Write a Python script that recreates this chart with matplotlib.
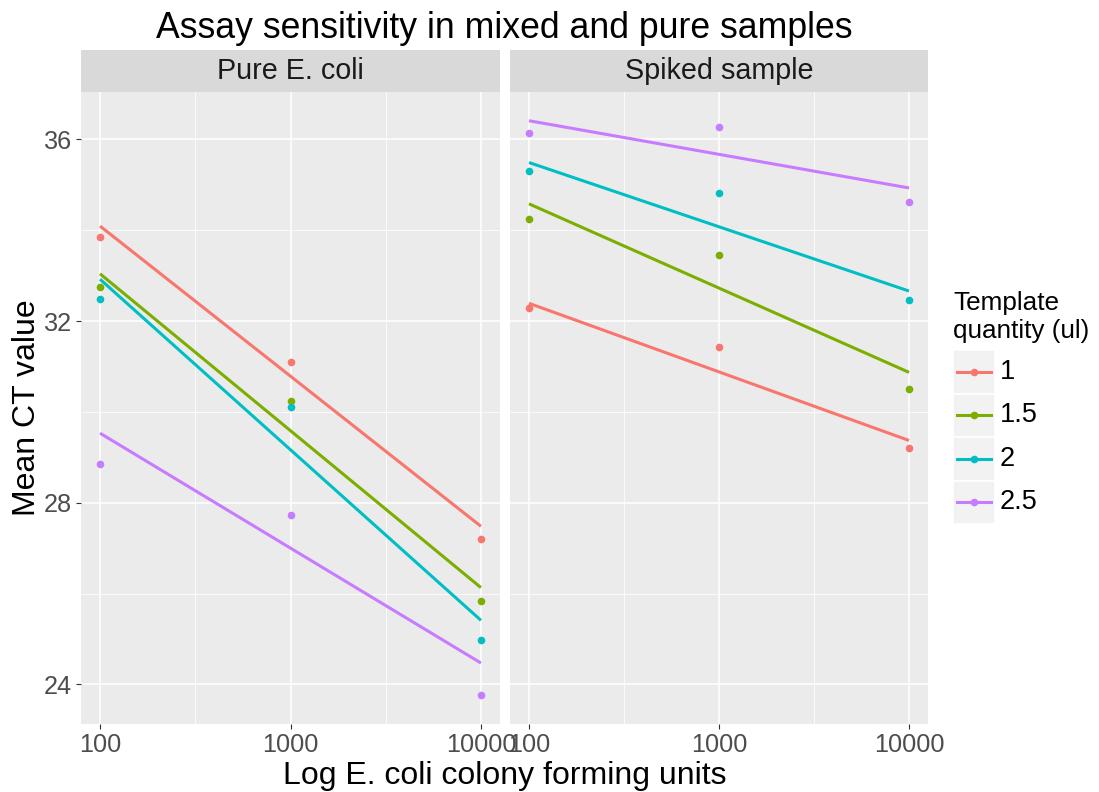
import numpy as np
import matplotlib.pyplot as plt
from matplotlib.patches import Rectangle
from matplotlib.ticker import FixedLocator, NullFormatter

plt.rcParams['font.family'] = ['Liberation Sans', 'DejaVu Sans']

# Data
cfu = [100, 1000, 10000]
cfu_labels = ["100", "1000", "10000"]
fit_cfu = [100, 10000]
quantities = ["1", "1.5", "2", "2.5"]
facets = ["Pure E. coli", "Spiked sample"]

# mean CT points
pure_q1 = [33.85, 31.09, 27.21]
pure_q15 = [32.75, 30.23, 25.84]
pure_q2 = [32.49, 30.10, 24.97]
pure_q25 = [28.85, 27.74, 23.76]

spiked_q1 = [32.28, 31.42, 29.21]
spiked_q15 = [34.24, 33.45, 30.50]
spiked_q2 = [35.31, 34.82, 32.47]
spiked_q25 = [36.13, 36.28, 34.62]

# fitted lines (value at 100 and at 10000)
pure_fit_q1 = [34.09, 27.48]
pure_fit_q15 = [33.04, 26.13]
pure_fit_q2 = [32.92, 25.41]
pure_fit_q25 = [29.53, 24.47]

spiked_fit_q1 = [32.39, 29.37]
spiked_fit_q15 = [34.58, 30.87]
spiked_fit_q2 = [35.49, 32.66]
spiked_fit_q25 = [36.41, 34.93]

colors = ["#F8766D", "#7CAE00", "#00BFC4", "#C77CFF"]

panel_points = [
    [pure_q1, pure_q15, pure_q2, pure_q25],
    [spiked_q1, spiked_q15, spiked_q2, spiked_q25],
]
panel_fits = [
    [pure_fit_q1, pure_fit_q15, pure_fit_q2, pure_fit_q25],
    [spiked_fit_q1, spiked_fit_q15, spiked_fit_q2, spiked_fit_q25],
]

allvals = np.concatenate([np.ravel(panel_points), np.ravel(panel_fits)])
ymin, ymax = allvals.min(), allvals.max()
ypad = 0.05 * (ymax - ymin)

W, H = 1099, 792
fig = plt.figure(figsize=(W / 100, H / 100), dpi=100)

panel_x = [(81, 500), (510, 928)]
top, bottom, strip_top = 92, 724, 50

for i, (x0, x1) in enumerate(panel_x):
    ax = fig.add_axes([x0 / W, 1 - bottom / H, (x1 - x0) / W, (bottom - top) / H])
    ax.set_facecolor("#EBEBEB")
    ax.set_xscale("log")
    ax.set_xlim(10 ** 1.9, 10 ** 4.1)
    ax.set_ylim(ymin - ypad, ymax + ypad)
    ax.xaxis.set_major_locator(FixedLocator(cfu))
    ax.set_xticklabels(cfu_labels)
    ax.xaxis.set_minor_locator(FixedLocator([10 ** 2.5, 10 ** 3.5]))
    ax.xaxis.set_minor_formatter(NullFormatter())
    ax.set_yticks([24, 28, 32, 36])
    ax.set_yticks([26, 30, 34], minor=True)
    ax.grid(which="major", color="white", linewidth=1.1)
    ax.grid(which="minor", color="white", linewidth=0.55)
    ax.set_axisbelow(True)
    ax.tick_params(which="minor", length=0)
    ax.tick_params(which="major", length=3.6, width=0.8, color="#333333",
                   labelcolor="#4D4D4D", labelsize=18.2, pad=3)
    for s in ax.spines.values():
        s.set_visible(False)
    if i == 1:
        ax.tick_params(axis="y", left=False, labelleft=False)

    for ct, fit, c in zip(panel_points[i], panel_fits[i], colors):
        ax.plot(cfu, ct, "o", color=c, markersize=5.5, markeredgewidth=0)
        ax.plot(fit_cfu, fit, color=c, linewidth=2.2, solid_capstyle="butt")

    # facet strip
    sax = fig.add_axes([x0 / W, 1 - top / H, (x1 - x0) / W, (top - strip_top) / H])
    sax.set_facecolor("#D9D9D9")
    sax.set_xticks([])
    sax.set_yticks([])
    for s in sax.spines.values():
        s.set_visible(False)
    sax.text(0.5, 0.5, facets[i], ha="center", va="center", fontsize=20.7,
             color="#1A1A1A", transform=sax.transAxes)

fig.text(504.5 / W, 1 - 37.5 / H, "Assay sensitivity in mixed and pure samples",
         ha="center", va="baseline", fontsize=25.7, color="black")
fig.text(504.5 / W, 1 - 784 / H, "Log E. coli colony forming units",
         ha="center", va="baseline", fontsize=23, color="black")
fig.text(27 / W, 1 - 408 / H, "Mean CT value", rotation=90,
         ha="center", va="center", fontsize=23, color="black")

# legend
fig.text(953 / W, 1 - 291 / H, "Template\nquantity (ul)", ha="left", va="top",
         fontsize=18.8, linespacing=1.2, color="black")
key_top, key_bot = 350, 524
lax = fig.add_axes([953 / W, 1 - key_bot / H, 42 / W, (key_bot - key_top) / H])
lax.set_xlim(0, 1)
lax.set_ylim(len(quantities), 0)
lax.axis("off")
for k, (q, c) in enumerate(zip(quantities, colors)):
    lax.add_patch(Rectangle((0, k), 1, 1, facecolor="#F2F2F2", edgecolor="white", linewidth=1.2))
    lax.plot([0.1, 0.9], [k + 0.5, k + 0.5], color=c, linewidth=2.2)
    lax.plot([0.5], [k + 0.5], "o", color=c, markersize=5.5, markeredgewidth=0)
    lax.text(1.12, k + 0.5, q, ha="left", va="center", fontsize=19.5, color="black")

fig.savefig("out.png", dpi=100)
